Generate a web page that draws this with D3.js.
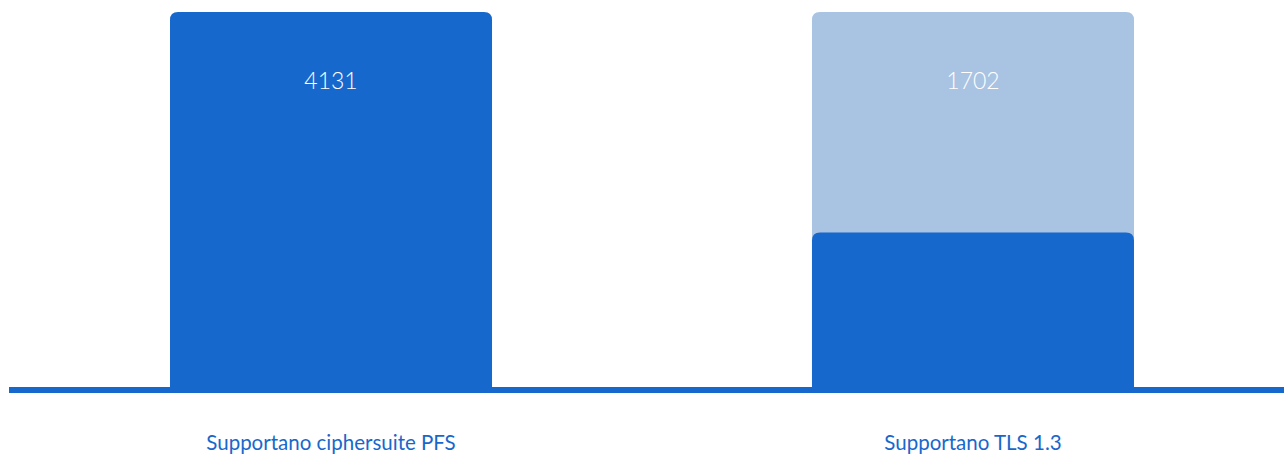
<!DOCTYPE html>
<html>
<head>
<meta charset="utf-8">
<script src="https://cdn.jsdelivr.net/npm/d3@7"></script>
<style>
  body { margin: 0; background: #fff; }
  text { font-family: Lato, "Open Sans", sans-serif; }
</style>
</head>
<body>
<div id="chart"></div>
<script>
// dati
const categories = ["Supportano ciphersuite PFS", "Supportano TLS 1.3"];
const totals = [4131, 4131];
const values = [4131, 1702];

const w = 1284, h = 456;
const baseY = 387;

const svg = d3.select("#chart").append("svg")
  .attr("width", w).attr("height", h)
  .attr("viewBox", [0, 0, w, h]);

const x = d3.scaleBand().domain(categories).range([9, 1295])
  .paddingInner(0.4984).paddingOuter(0.2508);
const y = d3.scaleLinear().domain([0, d3.max(totals)]).range([baseY, 12]);

// rettangolo con angoli superiori arrotondati
function topRounded(x0, y0, bw, bh, r) {
  r = Math.min(r, bh);
  return `M${x0},${y0 + bh}V${y0 + r}Q${x0},${y0} ${x0 + r},${y0}` +
    `H${x0 + bw - r}Q${x0 + bw},${y0} ${x0 + bw},${y0 + r}V${y0 + bh}Z`;
}

const data = categories.map((c, i) => ({ cat: c, total: totals[i], value: values[i] }));

const g = svg.append("g");
// sfondo chiaro (totale)
g.selectAll("path.bg").data(data.filter(d => d.total > d.value)).join("path")
  .attr("class", "bg")
  .attr("fill", "#a9c3e2")
  .attr("d", d => topRounded(x(d.cat), y(d.total), x.bandwidth(), baseY - y(d.total), 8));

g.selectAll("path.bar").data(data).join("path")
  .attr("class", "bar")
  .attr("fill", "#1768cc")
  .attr("d", d => topRounded(x(d.cat), y(d.value), x.bandwidth(), baseY - y(d.value), 8));

// etichette valore
g.selectAll("text.val").data(data).join("text")
  .attr("class", "val")
  .attr("x", d => x(d.cat) + x.bandwidth() / 2)
  .attr("y", d => y(d.total) + 77)
  .attr("text-anchor", "middle")
  .attr("fill", "#fff")
  .attr("font-size", 23)
  .attr("font-weight", 300)
  .text(d => d.value);

// linea di base
svg.append("rect")
  .attr("x", 9).attr("y", baseY)
  .attr("width", w - 9).attr("height", 6)
  .attr("fill", "#1768cc");

// etichette categorie
svg.selectAll("text.cat").data(categories).join("text")
  .attr("class", "cat")
  .attr("x", d => x(d) + x.bandwidth() / 2)
  .attr("y", 450)
  .attr("text-anchor", "middle")
  .attr("fill", "#1768cc")
  .attr("font-size", 20.5)
  .text(d => d);
</script>
</body>
</html>
